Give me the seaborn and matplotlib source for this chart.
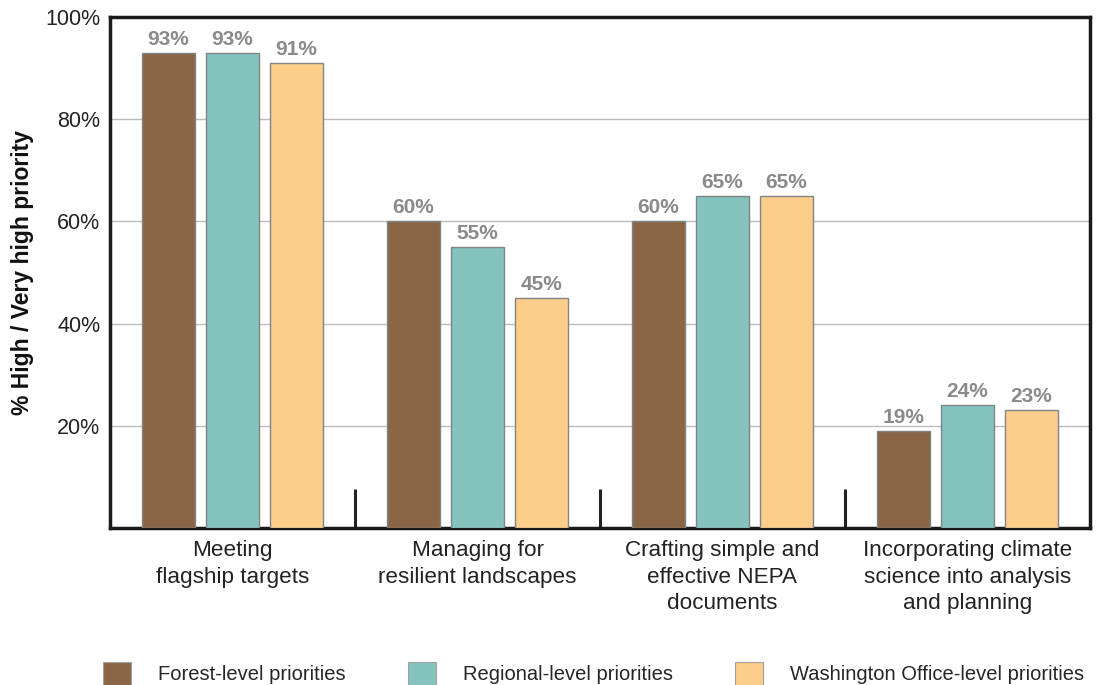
import matplotlib
matplotlib.use("Agg")
import matplotlib.pyplot as plt
from matplotlib.patches import Patch
import seaborn as sns
import pandas as pd

categories = ["Meeting\nflagship targets",
              "Managing for\nresilient landscapes",
              "Crafting simple and\neffective NEPA\ndocuments",
              "Incorporating climate\nscience into analysis\nand planning"]
series = ["Forest-level priorities", "Regional-level priorities",
          "Washington Office-level priorities"]
forest = [93, 60, 60, 19]
regional = [93, 55, 65, 24]
washington = [91, 45, 65, 23]
colors = ["#8A6646", "#85C3BD", "#FDCD8A"]
yticks = [20, 40, 60, 80, 100]
yticklabels = ["20%", "40%", "60%", "80%", "100%"]

rows = []
for s, vals in zip(series, [forest, regional, washington]):
    for c, v in zip(categories, vals):
        rows.append({"category": c, "series": s, "value": v})
df = pd.DataFrame(rows)

sns.set_theme(style="white")
plt.rcParams["font.family"] = ["Liberation Sans", "DejaVu Sans"]

fig = plt.figure(figsize=(10.99, 6.85), dpi=100)
ax = fig.add_axes([0.1001, 0.2292, 0.8917, 0.7460])

sns.barplot(data=df, x="category", y="value", hue="series", order=categories,
            hue_order=series, palette=colors, saturation=1, width=0.785, gap=0.18,
            edgecolor="#7f8585", linewidth=1.0, legend=False, ax=ax, zorder=3)

for cont in ax.containers:
    ax.bar_label(cont, labels=[f"{v:.0f}%" for v in cont.datavalues],
                 padding=3, color="#8a8a8a", fontsize=15, fontweight="bold")

ax.set_ylim(0, 100)
ax.set_xlim(-0.5, len(categories) - 0.5)
ax.set_yticks(yticks)
ax.set_yticklabels(yticklabels, fontsize=15.5, color="#222222")
ax.yaxis.grid(True, color="#bbbbbb", linewidth=1.0, zorder=0)
ax.set_axisbelow(True)
ax.tick_params(axis="y", length=0, pad=7)
ax.tick_params(axis="x", which="major", length=0, pad=9, labelcolor="#222222")
ax.set_xticks(range(len(categories)))
ax.set_xticklabels(categories, fontsize=16.2, linespacing=1.33)
ax.set_xticks([i + 0.5 for i in range(len(categories) - 1)], minor=True)
ax.tick_params(axis="x", which="minor", direction="in", length=28, width=2.2,
               color="#222222", bottom=True)
ax.set_xlabel("")
ax.set_ylabel("% High / Very high priority", fontsize=16.5, fontweight="bold",
              color="#111111", labelpad=8)

for side in ["left", "right", "top", "bottom"]:
    ax.spines[side].set_visible(True)
    ax.spines[side].set_color("#1a1a1a")
    ax.spines[side].set_linewidth(2.5)

handles = [Patch(facecolor=c, edgecolor="#a0a0a0", linewidth=0.8) for c in colors]
fig.legend(handles, series, loc="lower left", bbox_to_anchor=(0.0937, 0.0),
           ncol=3, frameon=False, fontsize=14.5, handlelength=1.39,
           handleheight=1.39, handletextpad=1.34, columnspacing=3.1,
           borderpad=0, borderaxespad=0)

fig.savefig("out.png", dpi=100)
